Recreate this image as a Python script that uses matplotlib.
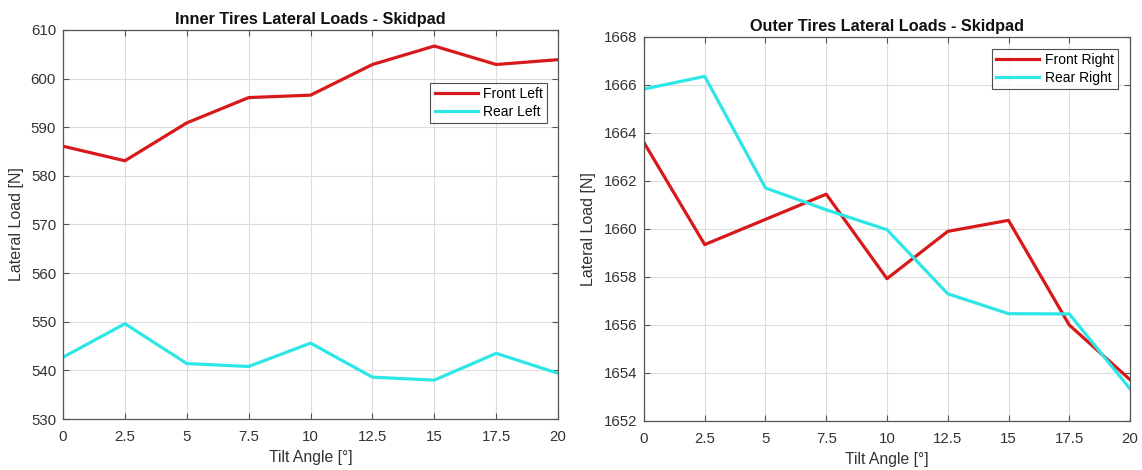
import matplotlib
matplotlib.use("Agg")
import matplotlib.pyplot as plt

plt.rcParams['font.family'] = ['Liberation Sans', 'DejaVu Sans']

tilt = [0, 2.5, 5, 7.5, 10, 12.5, 15, 17.5, 20]
front_left = [586.1, 583.1, 590.9, 596.1, 596.6, 602.9, 606.7, 602.9, 603.9]
rear_left = [542.7, 549.6, 541.4, 540.8, 545.6, 538.6, 538.0, 543.5, 539.4]
front_right = [1663.6, 1659.35, 1660.4, 1661.45, 1657.93, 1659.9, 1660.36, 1656.0, 1653.72]
rear_right = [1665.83, 1666.36, 1661.71, 1660.8, 1659.97, 1657.3, 1656.47, 1656.46, 1653.34]
xticks = [0, 2.5, 5, 7.5, 10, 12.5, 15, 17.5, 20]
xtick_labels = ['0', '2.5', '5', '7.5', '10', '12.5', '15', '17.5', '20']

RED = '#D7191C'
CYAN = '#2EE6E6'
AXC = '#555555'
TXT = '#333333'

fig = plt.figure(figsize=(11.42, 4.70), dpi=100)
ax1 = fig.add_axes([0.0552, 0.1085, 0.4335, 0.8277])
ax2 = fig.add_axes([0.5639, 0.1043, 0.4256, 0.8170])


def style(ax, yticks, title):
    ax.set_xlim(0, 20)
    ax.set_xticks(xticks)
    ax.set_xticklabels(xtick_labels)
    ax.set_yticks(yticks)
    ax.set_ylim(yticks[0], yticks[-1])
    ax.grid(True, color='#DCDCDC', linewidth=0.8)
    ax.set_axisbelow(True)
    ax.tick_params(direction='in', length=4, width=0.8, colors=AXC,
                   labelcolor=TXT, labelsize=10.8, top=True, right=True,
                   labeltop=False, labelright=False)
    ax.tick_params(axis='x', pad=8)
    ax.tick_params(axis='y', pad=5)
    for s in ax.spines.values():
        s.set_color(AXC)
        s.set_linewidth(0.9)
    ax.set_xlabel('Tilt Angle [°]', fontsize=11.3, color=TXT, labelpad=4)
    ax.set_ylabel('Lateral Load [N]', fontsize=11.5, color=TXT, labelpad=5)
    ax.set_title(title, fontsize=11.7, fontweight='bold', color='#111111', pad=4)


ax1.plot(tilt, front_left, color=RED, linewidth=2.3, label='Front Left')
ax1.plot(tilt, rear_left, color=CYAN, linewidth=2.3, label='Rear Left')
style(ax1, list(range(530, 611, 10)), 'Inner Tires Lateral Loads - Skidpad')
leg1 = ax1.legend(loc='upper right', bbox_to_anchor=(0.978, 0.864), fontsize=10,
                  frameon=True, fancybox=False, edgecolor='#222222',
                  handlelength=3.1, borderpad=0.3, labelspacing=0.3,
                  handletextpad=0.4, borderaxespad=0)
leg1.get_frame().set_linewidth(0.8)

ax2.plot(tilt, front_right, color=RED, linewidth=2.3, label='Front Right')
ax2.plot(tilt, rear_right, color=CYAN, linewidth=2.3, label='Rear Right')
style(ax2, list(range(1652, 1669, 2)), 'Outer Tires Lateral Loads - Skidpad')
leg2 = ax2.legend(loc='upper right', bbox_to_anchor=(0.975, 0.969), fontsize=10,
                  frameon=True, fancybox=False, edgecolor='#222222',
                  handlelength=3.1, borderpad=0.3, labelspacing=0.3,
                  handletextpad=0.4, borderaxespad=0)
leg2.get_frame().set_linewidth(0.8)

fig.savefig('out.png', dpi=100, facecolor='white')
